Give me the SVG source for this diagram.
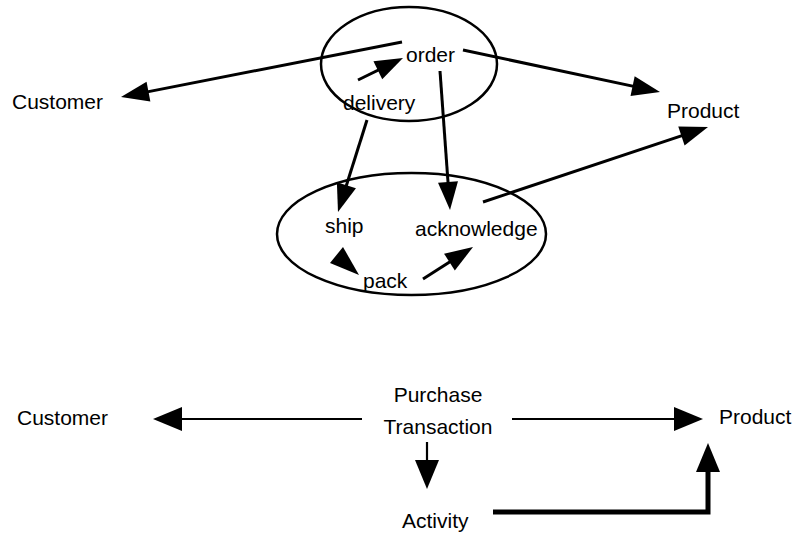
<svg xmlns="http://www.w3.org/2000/svg" width="792" height="534" viewBox="0 0 792 534">
  <style>
    text { font-family: "Liberation Sans", Arial, sans-serif; font-size: 21px; fill: #000; }
    .el { fill: none; stroke: #000; stroke-width: 2.5; }
    .c3 { fill: none; stroke: #000; stroke-width: 3; marker-end: url(#ah); }
    .c2 { fill: none; stroke: #000; stroke-width: 2.2; marker-end: url(#ahb); }
    .c5 { fill: none; stroke: #000; stroke-width: 5; marker-end: url(#ahb); }
    .head { fill: #000; }
  </style>
  <defs>
    <marker id="ah" markerUnits="userSpaceOnUse" markerWidth="30" markerHeight="22" viewBox="0 0 30 22" refX="20" refY="11" orient="auto">
      <path d="M2,1 L30,11 L2,21 Z" fill="#000"/>
    </marker>
    <marker id="ahb" markerUnits="userSpaceOnUse" markerWidth="31" markerHeight="26" viewBox="0 0 31 26" refX="21" refY="13" orient="auto">
      <path d="M2,1 L31,13 L2,25 Z" fill="#000"/>
    </marker>
  </defs>

  <g id="cluster-order">
    <ellipse class="el" cx="409" cy="64" rx="88" ry="57"/>
  </g>
  <g id="cluster-delivery">
    <ellipse class="el" cx="411.5" cy="234" rx="134.5" ry="61"/>
  </g>

  <g id="node-customer-top"><text x="12" y="109">Customer</text></g>
  <g id="node-order"><text x="406" y="62">order</text></g>
  <g id="node-delivery"><text x="343" y="110">delivery</text></g>
  <g id="node-product-top"><text x="667" y="118">Product</text></g>
  <g id="node-ship"><text x="325" y="233">ship</text></g>
  <g id="node-acknowledge"><text x="415" y="236">acknowledge</text></g>
  <g id="node-pack"><text x="363" y="288">pack</text></g>

  <g id="node-purchase-transaction">
    <text x="438" y="402" text-anchor="middle">Purchase</text>
    <text x="438" y="434" text-anchor="middle">Transaction</text>
  </g>
  <g id="node-customer-bottom"><text x="17" y="425">Customer</text></g>
  <g id="node-product-bottom"><text x="719" y="424">Product</text></g>
  <g id="node-activity"><text x="402" y="528">Activity</text></g>

  <g id="connectors">
    <line class="c3" x1="402" y1="42" x2="130.8" y2="95.1"/>
    <line class="c3" x1="358" y1="80" x2="394" y2="62.4"/>
    <line class="c3" x1="463" y1="50" x2="650.2" y2="89.9"/>
    <line class="c3" x1="440" y1="71" x2="449.3" y2="200"/>
    <line class="c3" x1="367" y1="120" x2="341" y2="202.5"/>
    <line class="c3" x1="423" y1="279" x2="464.6" y2="252.4"/>
    <line class="c3" x1="483" y1="202" x2="698.5" y2="130.2"/>
    <polygon class="head" points="343,247 330,263 359,275"/>

    <line class="c2" x1="362" y1="419" x2="163" y2="419"/>
    <line class="c2" x1="512" y1="419" x2="693" y2="419"/>
    <line class="c2" x1="427" y1="442" x2="427" y2="479"/>
    <path class="c5" d="M493,512 H708 V453"/>
  </g>
</svg>
